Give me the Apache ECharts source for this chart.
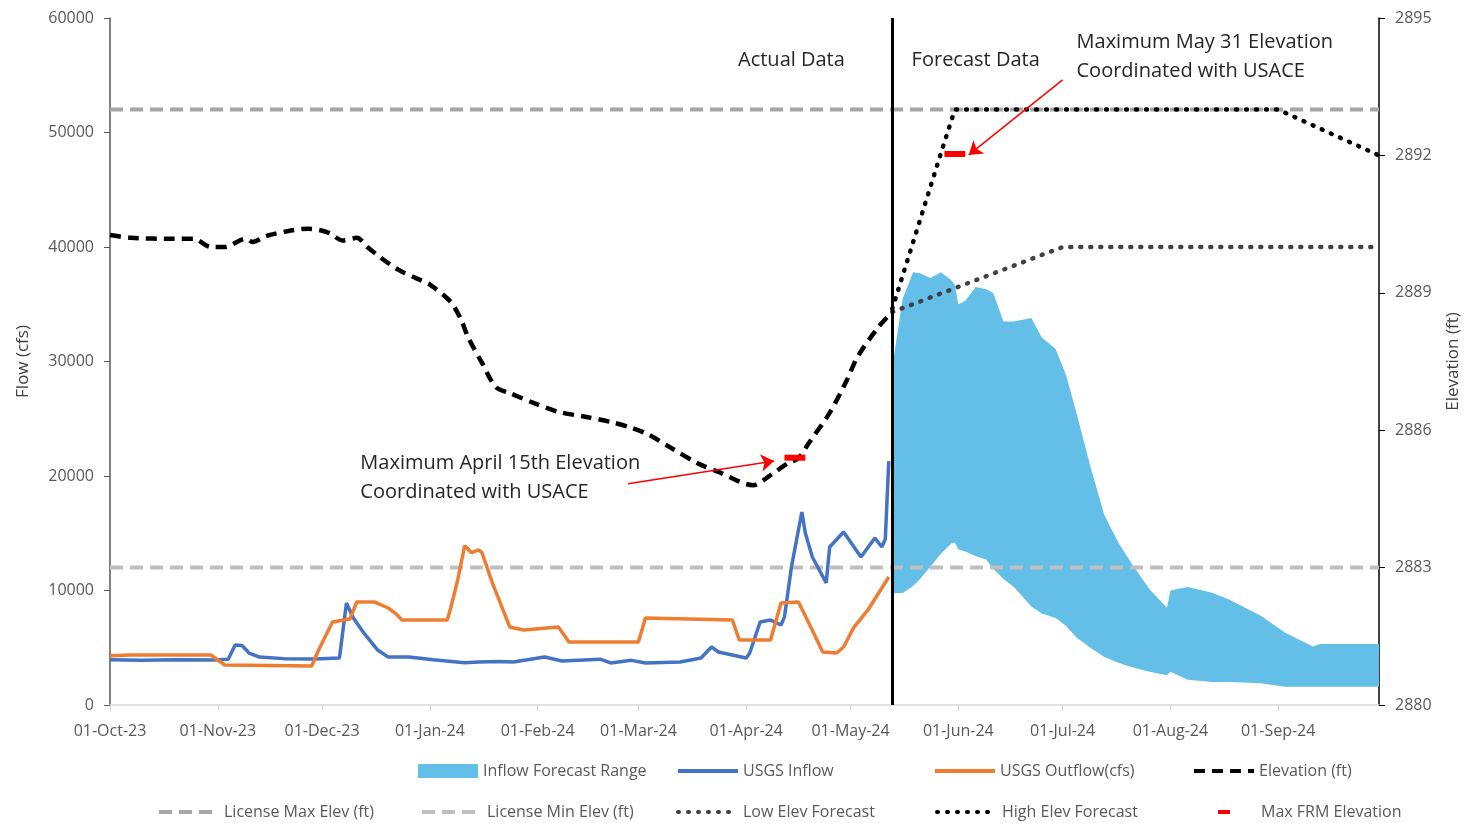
<!DOCTYPE html>
<html><head><meta charset="utf-8">
<script src="https://cdn.jsdelivr.net/npm/echarts@6/dist/echarts.min.js"></script>
<style>html,body{margin:0;padding:0;background:#fff}#c{width:1470px;height:823px}</style>
</head><body><div id="c"></div>
<script>
const FONT = '"Open Sans", sans-serif';
const MONTHS = ['Jan','Feb','Mar','Apr','May','Jun','Jul','Aug','Sep','Oct','Nov','Dec'];

// category days: 01-Oct-23 .. 30-Sep-24
function buildDays(){const out=[];let t=Date.UTC(2023,9,1);const end=Date.UTC(2024,8,30);while(t<=end){out.push(new Date(t).toISOString().slice(0,10));t+=86400000;}return out;}
const days = buildDays();

const splitDate = '2024-05-13';

const elevation = [
 ['2023-10-01',2890.26],['2023-10-07',2890.20],['2023-10-19',2890.18],['2023-10-25',2890.18],['2023-10-30',2890.00],
 ['2023-11-03',2890.00],['2023-11-09',2890.18],['2023-11-11',2890.11],['2023-11-15',2890.24],['2023-11-22',2890.36],
 ['2023-11-27',2890.40],['2023-12-03',2890.31],['2023-12-07',2890.14],['2023-12-11',2890.20],['2023-12-14',2890.00],
 ['2023-12-18',2889.76],['2023-12-23',2889.50],['2023-12-28',2889.32],['2024-01-01',2889.18],['2024-01-07',2888.80],
 ['2024-01-10',2888.41],['2024-01-12',2888.03],['2024-01-16',2887.47],['2024-01-20',2886.94],['2024-01-24',2886.81],
 ['2024-01-31',2886.59],['2024-02-07',2886.40],['2024-02-15',2886.29],['2024-02-22',2886.18],['2024-02-28',2886.05],
 ['2024-03-04',2885.90],['2024-03-10',2885.63],['2024-03-18',2885.28],['2024-03-24',2885.09],['2024-04-03',2884.80],
 ['2024-04-08',2885.02],['2024-04-13',2885.28],['2024-04-16',2885.39],['2024-04-19',2885.72],['2024-04-25',2886.38],
 ['2024-04-30',2887.10],['2024-05-03',2887.60],['2024-05-09',2888.25],['2024-05-13',2888.58]
];

const usgsInflow = [
 ['2023-10-01',3950],['2023-10-10',3900],['2023-10-20',3950],['2023-10-31',3930],['2023-11-04',4000],['2023-11-06',5240],
 ['2023-11-08',5200],['2023-11-10',4540],['2023-11-13',4190],['2023-11-20',4050],['2023-11-29',4020],['2023-12-06',4100],
 ['2023-12-08',8900],['2023-12-10',7600],['2023-12-13',6290],['2023-12-17',4800],['2023-12-20',4190],['2023-12-26',4200],
 ['2024-01-02',3950],['2024-01-11',3700],['2024-01-15',3750],['2024-01-21',3800],['2024-01-25',3750],['2024-02-03',4190],
 ['2024-02-08',3840],['2024-02-19',4000],['2024-02-22',3670],['2024-02-28',3900],['2024-03-03',3670],['2024-03-13',3750],
 ['2024-03-19',4100],['2024-03-22',5070],['2024-03-24',4630],['2024-03-28',4370],['2024-04-01',4100],['2024-04-02',4540],
 ['2024-04-05',7250],['2024-04-08',7420],['2024-04-11',6990],['2024-04-12',7700],['2024-04-14',12050],['2024-04-17',16860],
 ['2024-04-18',15020],['2024-04-20',12930],['2024-04-24',10660],['2024-04-25',13800],['2024-04-29',15110],['2024-05-04',12930],
 ['2024-05-08',14590],['2024-05-10',13800],['2024-05-11',14500],['2024-05-12',21300]
];

const usgsOutflow = [
 ['2023-10-01',4300],['2023-10-07',4370],['2023-10-30',4370],['2023-11-03',3490],['2023-11-28',3400],['2023-11-30',4800],
 ['2023-12-04',7250],['2023-12-09',7510],['2023-12-11',9000],['2023-12-16',9000],['2023-12-20',8470],['2023-12-22',8030],
 ['2023-12-24',7420],['2024-01-06',7420],['2024-01-07',8470],['2024-01-09',10900],['2024-01-11',13900],['2024-01-13',13300],
 ['2024-01-15',13540],['2024-01-16',13300],['2024-01-19',10650],['2024-01-24',6810],['2024-01-28',6550],['2024-02-07',6810],
 ['2024-02-10',5500],['2024-03-01',5500],['2024-03-03',7600],['2024-03-28',7420],['2024-03-30',5680],['2024-04-08',5680],
 ['2024-04-11',8910],['2024-04-16',9000],['2024-04-19',7160],['2024-04-23',4630],['2024-04-27',4540],['2024-04-29',5070],
 ['2024-05-02',6810],['2024-05-06',8300],['2024-05-12',11180]
];

// Inflow forecast range: date, low, high
const forecastDates = ['2024-05-13','2024-05-14','2024-05-16','2024-05-19','2024-05-21','2024-05-24','2024-05-27','2024-05-30',
 '2024-05-31','2024-06-01','2024-06-03','2024-06-06','2024-06-09','2024-06-11','2024-06-14','2024-06-17','2024-06-22',
 '2024-06-25','2024-06-29','2024-07-02','2024-07-05','2024-07-09','2024-07-13','2024-07-17','2024-07-21','2024-07-26',
 '2024-07-31','2024-08-01','2024-08-06','2024-08-13','2024-08-18','2024-08-27','2024-09-03','2024-09-11','2024-09-13','2024-09-30'];
const forecastLow = [9700,9780,9780,10400,11000,12100,13200,14100,14200,13600,13400,13000,12700,11900,11000,10300,8600,
 8000,7600,6900,5900,5000,4200,3700,3300,2900,2600,2900,2200,2000,2000,1900,1600,1600,1600,1600];
const forecastHigh = [29500,31500,35500,37800,37700,37300,37800,37100,36700,35000,35300,36500,36300,36000,33500,33500,33800,
 32100,31100,28800,25500,20800,16600,14200,12300,10100,8500,10000,10300,9800,9200,7800,6300,5100,5330,5330];

const licenseMax = [['2023-10-01',2893],['2024-09-30',2893]];
const licenseMin = [['2023-10-01',2883],['2024-09-30',2883]];
const lowElevForecast = [['2024-05-13',2888.58],['2024-07-01',2890.0],['2024-09-30',2890.0]];
const highElevForecast = [['2024-05-13',2888.65],['2024-05-27',2892.05],['2024-05-31',2893.0],['2024-09-01',2893.0],['2024-09-30',2892.0]];
const maxFrmApril = [['2024-04-12',2885.4],['2024-04-18',2885.4]];
const maxFrmMay = [['2024-05-28',2892.03],['2024-06-03',2892.03]];

const arrows = [
 [['2024-02-27',2884.83],['2024-04-09',2885.33]],
 [['2024-07-01',2893.65],['2024-06-04',2892.01]]
];
const notes = [
 {text:'Maximum April 15th Elevation\nCoordinated with USACE', at:['2023-12-12',2885.60], align:'left', va:'top'},
 {text:'Maximum May 31 Elevation\nCoordinated with USACE', at:['2024-07-05',2894.79], align:'left', va:'top'},
 {text:'Actual Data', at:['2024-04-14',2894.08], align:'center', va:'middle'},
 {text:'Forecast Data', at:['2024-06-06',2894.08], align:'center', va:'middle'}
];

const BLUE_AREA = '#63BEE8';
const chart = echarts.init(document.getElementById('c'));

function fmtDate(v){const p=v.split('-');return p[2]+'-'+MONTHS[+p[1]-1]+'-'+p[0].slice(2);}
const isMonthStart = (i,v)=> v.slice(8)==='01';

function lg(item,left,top,extra){
  return Object.assign({data:[item],left:left,top:top,itemWidth:60,itemHeight:14,padding:0,itemGap:0,selectedMode:false,
    itemStyle:{opacity:0},lineStyle:{width:4},
    textStyle:{fontSize:16,color:'#595959',fontFamily:FONT}},extra||{});
}
const dotted = (color)=>({color:color,width:4.5,type:[1,9],cap:'round'});

const option = {
  backgroundColor:'#fff',
  animation:false,
  textStyle:{fontFamily:FONT},
  grid:{left:110,right:90,top:18,bottom:118,containLabel:false},
  legend:[
    lg({name:'Inflow Forecast Range',icon:'rect'},418,763,{itemStyle:{color:BLUE_AREA,opacity:1}}),
    lg('USGS Inflow',676,763),
    lg('USGS Outflow(cfs)',933,763),
    lg('Elevation (ft)',1192,763),
    lg('License Max Elev (ft)',157,804),
    lg('License Min Elev (ft)',420,804),
    lg('Low Elev Forecast',676,804),
    lg('High Elev Forecast',935,804),
    lg('Max FRM Elevation',1216,804,{itemWidth:12,textStyle:{fontSize:16,color:'#595959',fontFamily:FONT,padding:[0,0,0,26]}})
  ],
  xAxis:{type:'category',data:days,boundaryGap:false,
    axisLine:{show:true,lineStyle:{color:'#D9D9D9',width:1.5}},
    axisTick:{show:true,interval:isMonthStart,length:6,lineStyle:{color:'#D9D9D9'}},
    axisLabel:{interval:isMonthStart,formatter:fmtDate,color:'#595959',fontSize:16,fontFamily:FONT,margin:18},
    splitLine:{show:false}},
  yAxis:[
    {type:'value',min:0,max:60000,interval:10000,position:'left',
     name:'Flow (cfs)',nameLocation:'middle',nameGap:78,nameRotate:90,
     nameTextStyle:{color:'#404040',fontSize:17,fontFamily:FONT},
     axisLine:{show:true,lineStyle:{color:'#595959',width:1.5}},
     axisTick:{show:true,length:6,lineStyle:{color:'#595959'}},
     axisLabel:{color:'#595959',fontSize:16,fontFamily:FONT,margin:16,formatter:v=>String(v)},
     splitLine:{show:false}},
    {type:'value',min:2880,max:2895,interval:3,position:'right',
     name:'Elevation (ft)',nameLocation:'middle',nameGap:66,nameRotate:90,
     nameTextStyle:{color:'#404040',fontSize:17,fontFamily:FONT},
     axisLine:{show:true,lineStyle:{color:'#000',width:1.5}},
     axisTick:{show:true,length:6,lineStyle:{color:'#000'}},
     axisLabel:{color:'#595959',fontSize:16,fontFamily:FONT,margin:16,formatter:v=>String(v)},
     splitLine:{show:false}}
  ],
  series:[
    {name:'fcBase',type:'line',stack:'fc',yAxisIndex:0,symbol:'none',silent:true,z:1,
     data:forecastDates.map((d,i)=>[d,forecastLow[i]]),lineStyle:{opacity:0,width:0}},
    {name:'Inflow Forecast Range',type:'line',stack:'fc',yAxisIndex:0,symbol:'none',z:1,
     itemStyle:{color:BLUE_AREA},lineStyle:{width:0,color:BLUE_AREA},areaStyle:{color:BLUE_AREA,opacity:1},
     data:forecastDates.map((d,i)=>[d,forecastHigh[i]-forecastLow[i]])},
    {name:'USGS Inflow',type:'line',yAxisIndex:0,symbol:'none',z:3,data:usgsInflow,
     itemStyle:{color:'#4472C4'},lineStyle:{color:'#4472C4',width:3.5}},
    {name:'USGS Outflow(cfs)',type:'line',yAxisIndex:0,symbol:'none',z:3,data:usgsOutflow,
     itemStyle:{color:'#ED7D31'},lineStyle:{color:'#ED7D31',width:3.5}},
    {name:'License Max Elev (ft)',type:'line',yAxisIndex:1,symbol:'none',z:2,data:licenseMax,
     itemStyle:{color:'#A6A6A6'},lineStyle:{color:'#A6A6A6',width:4,type:[13,7]}},
    {name:'License Min Elev (ft)',type:'line',yAxisIndex:1,symbol:'none',z:2,data:licenseMin,
     itemStyle:{color:'#BFBFBF'},lineStyle:{color:'#BFBFBF',width:4,type:[13,7]}},
    {name:'Elevation (ft)',type:'line',yAxisIndex:1,symbol:'none',z:4,data:elevation,smooth:0.3,
     itemStyle:{color:'#000'},lineStyle:{color:'#000',width:4.5,type:[11,7]},
     markLine:{silent:true,symbol:'none',label:{show:false},animation:false,
       lineStyle:{color:'#000',width:3,type:'solid'},data:[{xAxis:splitDate}]}},
    {name:'Low Elev Forecast',type:'line',yAxisIndex:1,symbol:'none',z:4,data:lowElevForecast,
     itemStyle:{color:'#404040'},lineStyle:dotted('#404040')},
    {name:'High Elev Forecast',type:'line',yAxisIndex:1,symbol:'none',z:4,data:highElevForecast,
     itemStyle:{color:'#000'},lineStyle:dotted('#000')},
    {name:'Max FRM Elevation',type:'line',yAxisIndex:1,symbol:'none',z:5,data:maxFrmApril,
     itemStyle:{color:'#FF0000'},lineStyle:{color:'#FF0000',width:6},
     markLine:{silent:true,symbol:['none','arrow'],symbolSize:13,label:{show:false},animation:false,
       itemStyle:{color:'#FF0000'},
       lineStyle:{color:'#FF0000',width:1.5,type:'solid'},
       data:arrows.map(a=>[{coord:a[0]},{coord:a[1]}])}},
    {name:'Max FRM Elevation',type:'line',yAxisIndex:1,symbol:'none',z:5,data:maxFrmMay,
     itemStyle:{color:'#FF0000'},lineStyle:{color:'#FF0000',width:6}}
  ]
};
chart.setOption(option);

const g = notes.map(n=>{
  const p = chart.convertToPixel({xAxisIndex:0,yAxisIndex:1}, n.at);
  return {type:'text',x:p[0],y:p[1],silent:true,z:10,
    style:{text:n.text,fontSize:20,fontFamily:FONT,fill:'#262626',align:n.align,verticalAlign:n.va,lineHeight:29}};
});
chart.setOption({graphic:g});
</script></body></html>
